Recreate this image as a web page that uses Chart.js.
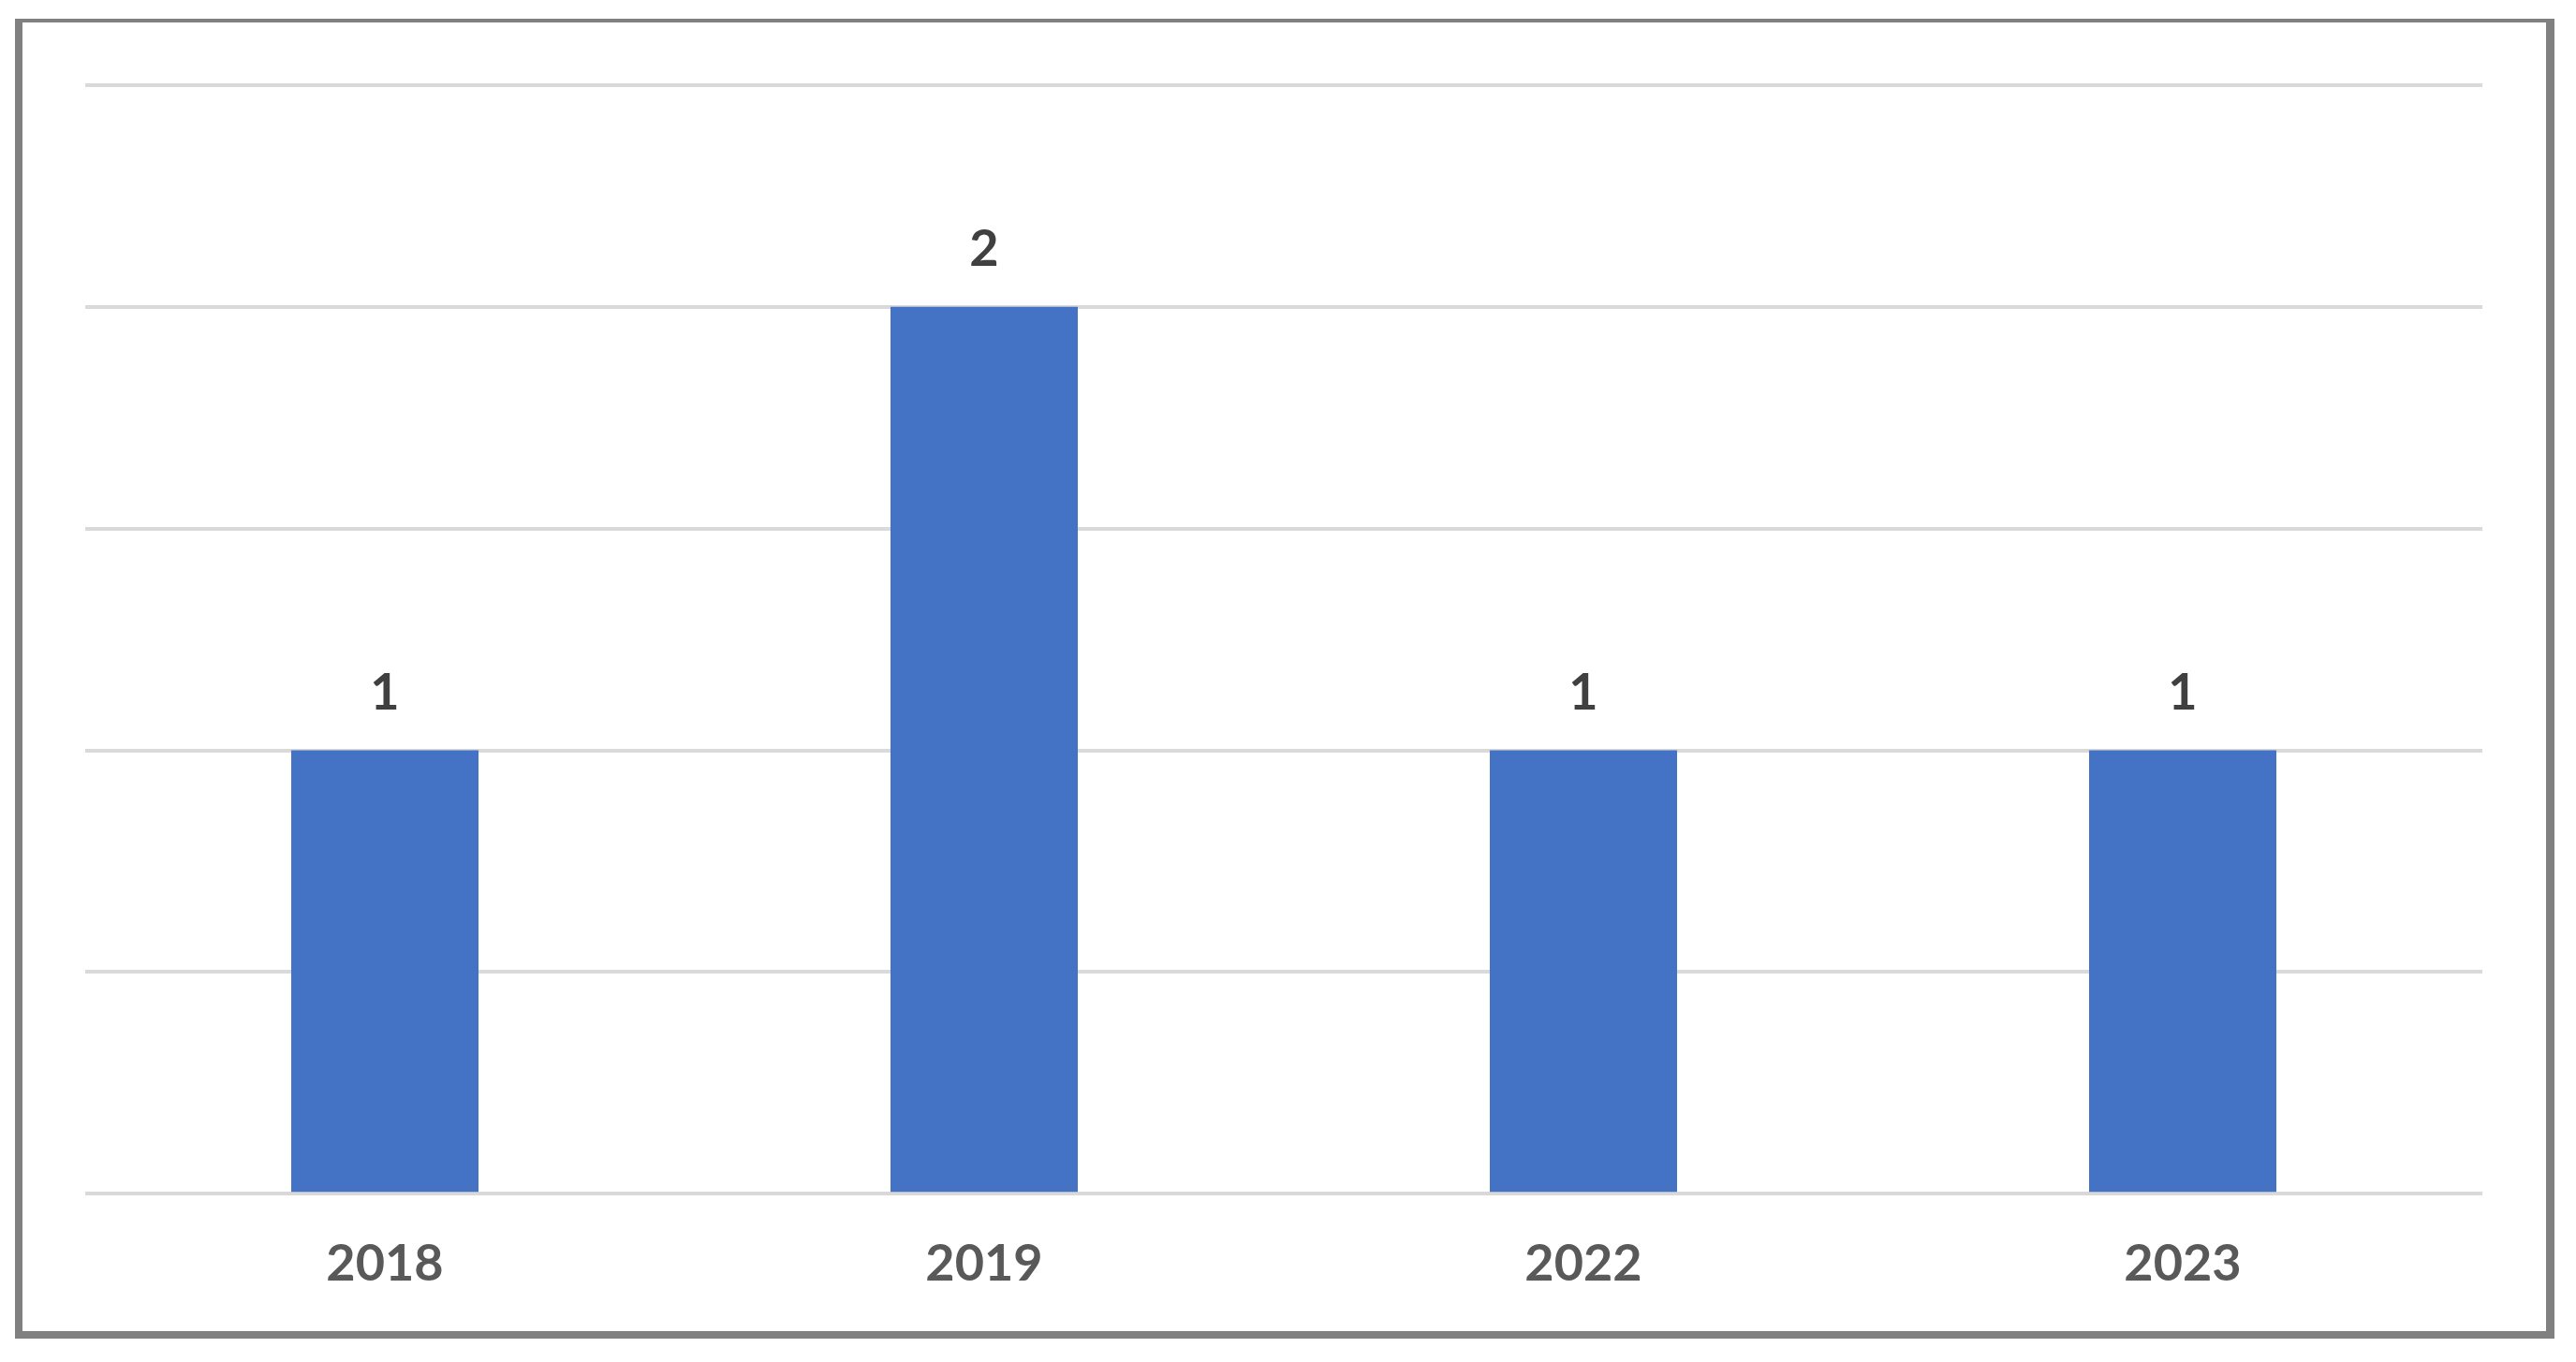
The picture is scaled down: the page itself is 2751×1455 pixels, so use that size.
<!DOCTYPE html>
<html>
<head>
<meta charset="utf-8">
<script src="https://cdn.jsdelivr.net/npm/chart.js@4"></script>
<style>
    body { margin: 0; background: #fff; }
    #wrap { position: relative; width: 2751px; height: 1455px; }
    #frame {
        position: absolute; left: 16px; top: 20px; width: 2695px; height: 1398px;
        border-left: 8px solid #808080; border-right: 9px solid #808080;
        border-top: 4px solid #808080; border-bottom: 8px solid #808080;
        pointer-events: none;
    }
</style>
</head>
<body>
<div id="wrap">
    <canvas id="myChart"></canvas>
    <div id="frame"></div>
</div>
<script>
// data
const years = ['2018', '2019', '2022', '2023'];
const counts = [1, 2, 1, 1];
const yTicksMax = 2.5;
const yTicksStep = 0.5;

// value labels above each bar
const barLabels = {
    id: 'barLabels',
    afterDatasetsDraw(chart) {
        const ctx = chart.ctx;
        const meta = chart.getDatasetMeta(0);
        ctx.save();
        ctx.fillStyle = '#404040';
        ctx.font = 'bold 54px Lato, "Open Sans", sans-serif';
        ctx.textAlign = 'center';
        ctx.textBaseline = 'alphabetic';
        meta.data.forEach((bar, i) => {
            ctx.fillText(String(counts[i]), bar.x, bar.y - 44);
        });
        ctx.restore();
    }
};

const config = {
    type: 'bar',
    data: {
        labels: years,
        datasets: [{
            data: counts,
            backgroundColor: '#4472C4',
            borderWidth: 0,
            categoryPercentage: 1,
            barPercentage: 0.3125
        }]
    },
    options: {
        responsive: false,
        animation: false,
        layout: {
            padding: { left: 91, right: 100, top: 91, bottom: 29 }
        },
        plugins: {
            legend: { display: false },
            tooltip: { enabled: false }
        },
        scales: {
            x: {
                grid: { display: false, drawTicks: false },
                border: { display: false },
                ticks: {
                    color: '#595959',
                    padding: 43,
                    font: { family: 'Lato, "Open Sans", sans-serif', size: 54, weight: 'bold' }
                }
            },
            y: {
                min: 0,
                max: yTicksMax,
                ticks: { display: false, stepSize: yTicksStep },
                grid: { color: '#d9d9d9', lineWidth: 4, drawTicks: false },
                border: { display: false }
            }
        }
    },
    plugins: [barLabels]
};

const canvas = document.getElementById('myChart');
canvas.width = 2751;
canvas.height = 1455;
const myChart = new Chart(canvas, config);
</script>
</body>
</html>
